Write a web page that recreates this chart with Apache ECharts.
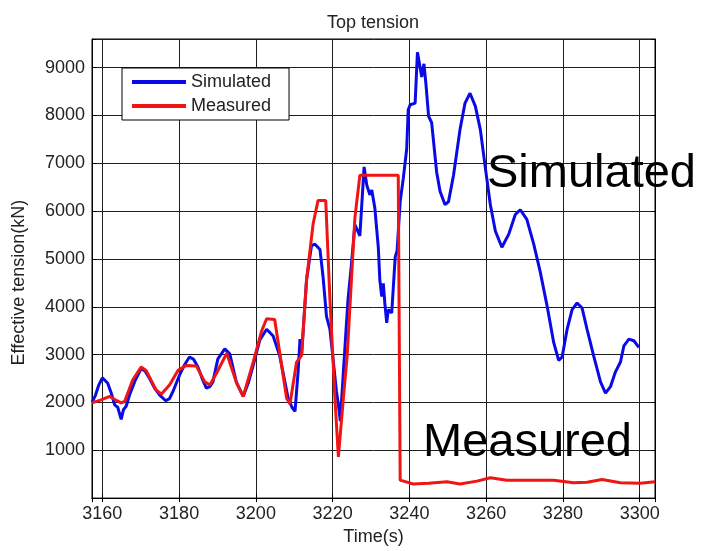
<!DOCTYPE html>
<html>
<head>
<meta charset="utf-8">
<script src="https://cdn.jsdelivr.net/npm/echarts@6/dist/echarts.min.js"></script>
<style>html,body{margin:0;padding:0;background:#fff}#c{width:702px;height:551px}</style>
</head>
<body>
<div id="c"></div>
<script>
const simTime = [3157.3,3158.2,3159.0,3160.0,3161.4,3162.3,3163.2,3164.0,3164.9,3165.5,3166.2,3167.1,3168.5,3170.1,3171.2,3172.3,3173.6,3174.9,3176.5,3177.5,3178.4,3180.1,3181.5,3182.7,3183.8,3184.9,3186.0,3187.1,3188.0,3188.8,3190.1,3191.9,3193.2,3194.9,3196.7,3198.0,3199.3,3201.0,3202.8,3204.5,3206.2,3208.4,3209.4,3210.2,3211.0,3211.5,3211.9,3213.2,3214.5,3215.4,3216.7,3217.5,3218.4,3219.3,3220.0,3221.0,3221.5,3222.0,3222.8,3224.0,3224.8,3225.8,3227.1,3228.2,3228.9,3229.7,3230.2,3231.0,3231.9,3232.3,3232.8,3233.2,3233.6,3234.1,3234.5,3235.4,3236.3,3236.8,3237.6,3238.4,3239.3,3239.7,3240.2,3241.5,3242.1,3242.8,3243.2,3243.8,3244.3,3245.0,3245.8,3247.1,3248.0,3249.3,3250.2,3251.5,3253.2,3254.5,3255.8,3257.2,3258.5,3259.8,3261.1,3262.4,3264.1,3265.9,3267.6,3268.9,3270.6,3272.4,3274.1,3275.9,3277.6,3278.9,3279.8,3281.1,3282.4,3283.7,3285.0,3286.3,3288.0,3289.8,3291.1,3292.4,3293.7,3295.0,3295.9,3297.2,3298.5,3299.8];
const simValue = [2000,2150,2350,2515,2400,2200,1950,1900,1645,1850,1920,2160,2450,2710,2650,2500,2300,2160,2035,2080,2230,2570,2800,2950,2900,2740,2500,2300,2330,2430,2910,3120,3015,2430,2125,2400,2775,3300,3530,3390,2980,2090,1900,1815,2640,3325,2980,4560,5280,5310,5200,4630,3800,3530,3000,2230,1955,1610,2640,4150,4800,5720,5485,6925,6545,6340,6440,6065,5245,4560,4215,4490,4080,3665,3940,3870,5040,5175,6200,6680,7300,8120,8225,8260,9320,9010,8805,9080,8670,7985,7850,6820,6410,6135,6200,6750,7710,8260,8465,8190,7700,6900,6135,5585,5245,5520,5930,6030,5830,5310,4730,4010,3255,2880,2950,3530,3940,4080,3975,3530,2980,2430,2195,2330,2640,2845,3185,3325,3290,3150];
const measTime = [3157.3,3159.5,3161.9,3163.5,3164.9,3165.8,3167.9,3170.1,3171.4,3174.0,3175.4,3177.5,3179.7,3181.9,3184.5,3186.7,3188.0,3189.7,3192.4,3195.0,3196.7,3199.3,3201.5,3202.8,3204.9,3206.2,3208.0,3208.9,3210.6,3211.9,3213.2,3214.9,3216.2,3218.2,3219.3,3220.6,3221.5,3222.8,3223.8,3225.8,3227.1,3237.1,3237.6,3241.0,3245.0,3249.8,3253.2,3257.6,3261.1,3265.4,3269.8,3277.6,3282.8,3286.3,3290.2,3295.0,3300.2,3304.0];
const measValue = [1990,2050,2125,2050,1990,2020,2470,2740,2670,2260,2175,2365,2670,2775,2760,2430,2365,2605,3030,2400,2125,2845,3495,3750,3735,3050,2090,1970,2845,2980,4560,5725,6225,6225,4150,2090,860,2090,2980,5860,6750,6750,376,295,310,340,295,355,425,375,375,375,322,330,390,322,312,340];
const seriesNames = ['Simulated','Measured'];
const xTickStep = 20;

const font = '"Liberation Sans", Arial, sans-serif';
const chart = echarts.init(document.getElementById('c'));
const grid = {left:92, right:47, top:39, bottom:48, show:true, borderColor:'#000', borderWidth:1, backgroundColor:'#fff'};
const tickStyle = {color:'#000', width:1};
chart.setOption({
  animation:false,
  backgroundColor:'#fff',
  title:{text:'Top tension', left:322, top:9, textStyle:{fontSize:18, fontWeight:'normal', color:'#222', fontFamily:font}},
  legend:{data:seriesNames, orient:'vertical', left:122, top:68, itemWidth:54, itemHeight:4, itemGap:6, icon:'rect',
    padding:[5,18,5,10], borderColor:'#000', borderWidth:1, backgroundColor:'#fff', borderRadius:0,
    textStyle:{fontSize:18, color:'#222', fontFamily:font}},
  grid:grid,
  xAxis:[{type:'value', min:3157.3, max:3304, splitNumber:7, position:'bottom',
      name:'Time(s)', nameLocation:'middle', nameGap:28, nameTextStyle:{fontSize:18, color:'#222', fontFamily:font},
      axisLine:{show:true, lineStyle:{color:'#000'}}, axisTick:{show:true, inside:true, length:4, lineStyle:tickStyle},
      axisLabel:{margin:7, fontSize:18, color:'#222', fontFamily:font, formatter:v => (Math.abs(v % xTickStep) < 1e-6 ? String(v) : '')},
      splitLine:{show:true, lineStyle:{color:'#1e1e1e', width:1}}},
    {type:'value', min:3157.3, max:3304, splitNumber:7, position:'top',
      axisLine:{show:true, lineStyle:{color:'#000'}}, axisTick:{show:true, inside:true, length:4, lineStyle:tickStyle},
      axisLabel:{show:false}, splitLine:{show:false}}],
  yAxis:[{type:'value', min:0, max:9600, interval:1000, position:'left',
      name:'Effective tension(kN)', nameLocation:'middle', nameGap:64, nameTextStyle:{fontSize:18, color:'#222', fontFamily:font, padding:[0,28,0,0]},
      axisLine:{show:true, lineStyle:{color:'#000'}}, axisTick:{show:true, inside:true, length:4, lineStyle:tickStyle},
      axisLabel:{margin:7, fontSize:18, color:'#222', fontFamily:font, formatter:v => (v > 0 && v % 1000 === 0 ? String(v) : '')},
      splitLine:{show:true, lineStyle:{color:'#1e1e1e', width:1}}},
    {type:'value', min:0, max:9600, interval:1000, position:'right',
      axisLine:{show:true, lineStyle:{color:'#000'}}, axisTick:{show:true, inside:true, length:4, lineStyle:tickStyle},
      axisLabel:{show:false}, splitLine:{show:false}}],
  graphic:[
    {type:'text', left:487, top:151, z:100, style:{text:'Simulated', font:'47px ' + font, fill:'#000'}},
    {type:'text', left:423, top:420, z:100, style:{text:'Measured', font:'47px ' + font, fill:'#000'}}
  ],
  series:[
    {name:seriesNames[0], type:'line', xAxisIndex:0, yAxisIndex:0, symbol:'none', color:'#0a0ae6',
      lineStyle:{width:3, color:'#0a0ae6'}, data: simTime.map((t,i)=>[t, simValue[i]])},
    {name:seriesNames[1], type:'line', xAxisIndex:0, yAxisIndex:0, symbol:'none', color:'#f01414',
      lineStyle:{width:3, color:'#f01414'}, data: measTime.map((t,i)=>[t, measValue[i]])}
  ]
});
</script>
</body>
</html>
